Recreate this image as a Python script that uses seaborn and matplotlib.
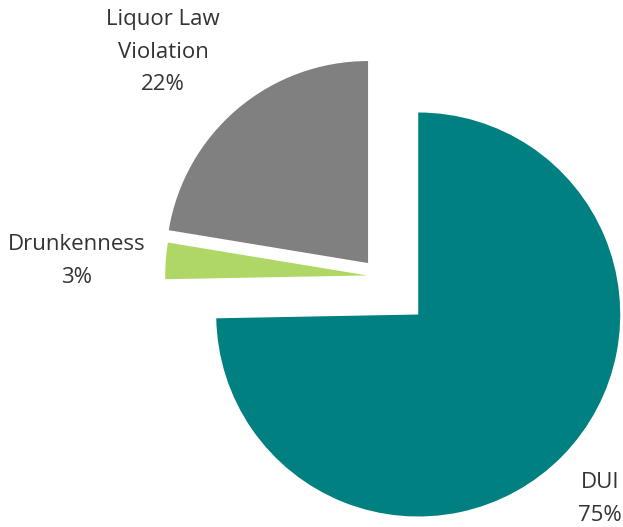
import matplotlib.pyplot as plt
import seaborn as sns

sns.set_theme(style="white")
plt.rcParams['font.family'] = ['Open Sans', 'DejaVu Sans']

# Data
categories = ['DUI', 'Drunkenness', 'Liquor Law\nViolation']
shares = [74.7, 2.9, 22.4]
colors = ['#008080', '#afd766', '#808080']
explode_frac = [0.27, 0.06, 0.086]

# Figure set up so that data units match pixels
fig = plt.figure(figsize=(6.23, 5.27), dpi=100)
ax = fig.add_axes([0, 0, 1, 1])

radius = 202
center = (379.3, 250.7)
ax.pie(shares, colors=colors, startangle=90, counterclock=False,
       explode=[e * radius for e in explode_frac], radius=radius,
       center=center, wedgeprops=dict(linewidth=0))

ax.set_xlim(0, 623)
ax.set_ylim(0, 527)
ax.set_aspect('equal')
ax.axis('off')

# Labels (name + rounded percent)
label_pos = [(600, 28), (77, 266), (163, 475)]
for cat, val, (x, y) in zip(categories, shares, label_pos):
    ax.text(x, y, f"{cat}\n{val:.0f}%", ha='center', va='center',
            fontsize=16, color='#333333', linespacing=1.75)

plt.savefig('out.png', dpi=100)
